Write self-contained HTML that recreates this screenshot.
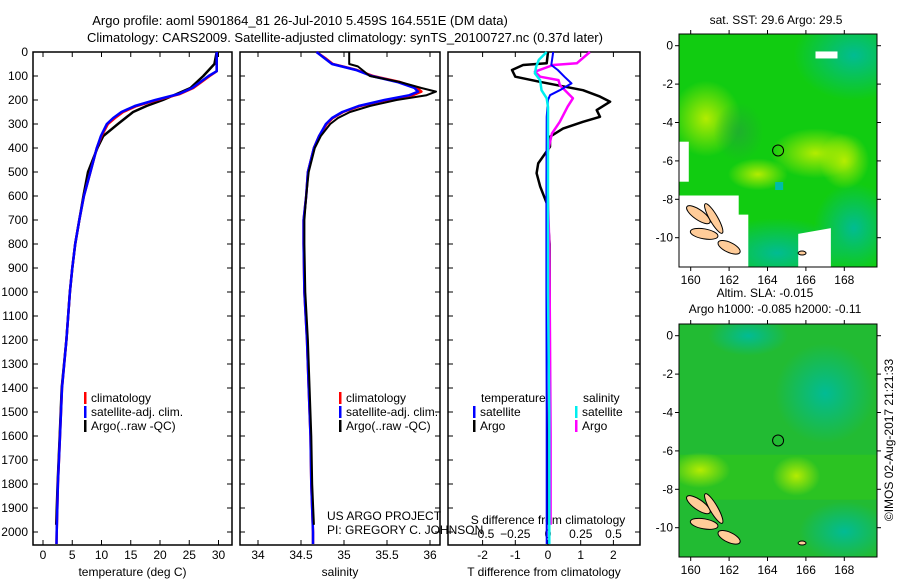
<!DOCTYPE html>
<html><head><meta charset="utf-8"><style>
body{margin:0;background:#fff}
svg{display:block;font-family:"Liberation Sans",sans-serif;font-size:12px}
</style></head><body>
<svg id="fig" width="900" height="580" viewBox="0 0 900 580">
<defs>
<radialGradient id="yb" cx="50%" cy="50%" r="50%"><stop offset="0" stop-color="#bbee00" stop-opacity="0.95"/><stop offset="1" stop-color="#bbee00" stop-opacity="0"/></radialGradient>
<radialGradient id="tb" cx="50%" cy="50%" r="50%"><stop offset="0" stop-color="#00bb99" stop-opacity="0.95"/><stop offset="1" stop-color="#00bb99" stop-opacity="0"/></radialGradient>
<radialGradient id="db" cx="50%" cy="50%" r="50%"><stop offset="0" stop-color="#22aa33" stop-opacity="0.8"/><stop offset="1" stop-color="#22aa33" stop-opacity="0"/></radialGradient>
<clipPath id="c1"><rect x="679" y="34" width="198" height="233"/></clipPath>
<clipPath id="c2"><rect x="679" y="324" width="198" height="233"/></clipPath>
</defs>
<text x="300" y="25" text-anchor="middle" font-size="13">Argo profile: aoml 5901864_81 26-Jul-2010 5.459S 164.551E (DM data)</text>
<text x="345" y="42" text-anchor="middle" font-size="13">Climatology: CARS2009. Satellite-adjusted climatology: synTS_20100727.nc (0.37d later)</text>
<g id="p1"></g>
<g id="p2"></g>
<g id="p3"></g>
<g id="m1"></g>
<g id="m2"></g>
<text transform="translate(893,440) rotate(-90)" text-anchor="middle" font-size="12">©IMOS 02-Aug-2017 21:21:33</text>
</svg>
<script>
// ---- data ----
const tempDepth = [0,80,100,150,175,200,225,250,275,300,350,400,500,600,700,800,900,1000,1200,1400,1600,1800,2000,2050];
const tempClim  = [29.7,29.7,28.5,25.7,23.4,19.5,16,13.7,12.3,11.1,10,9.2,8.1,7,6.2,5.5,5,4.6,4.0,3.25,2.9,2.55,2.35,2.3];
const tempSat   = [29.7,29.7,28.3,25.5,23.2,19.2,15.7,13.4,12.0,10.9,9.9,9.2,8.1,7,6.2,5.5,5,4.6,4.0,3.25,2.9,2.55,2.35,2.3];
const argoDepth = [0,50,100,150,200,225,250,300,350,400,500,600,700,800,900,1000,1200,1400,1600,1800,1970];
const argoTemp  = [29.7,29.3,27.4,25.2,20.5,17.7,15.4,12.8,10.3,9.3,7.7,6.9,6.2,5.5,5,4.6,4.0,3.2,2.85,2.5,2.25];
const salDepth = [0,25,50,75,100,125,150,165,180,200,225,250,275,300,350,400,500,600,700,800,1000,1200,1400,1600,1800,2000,2050];
const salClim  = [34.68,34.78,34.87,35.15,35.34,35.65,35.85,35.9,35.8,35.5,35.19,34.99,34.87,34.8,34.71,34.65,34.58,34.56,34.53,34.53,34.54,34.57,34.59,34.61,34.62,34.64,34.64];
const salSat   = [34.68,34.77,34.86,35.14,35.32,35.62,35.82,35.86,35.76,35.47,35.17,34.98,34.86,34.79,34.71,34.65,34.58,34.56,34.53,34.53,34.54,34.57,34.59,34.61,34.62,34.64,34.64];
const argoSal  = [35.06,35.06,35.16,35.3,35.65,35.9,36.07,35.96,35.61,35.3,35.07,34.93,34.84,34.73,34.66,34.59,34.56,34.54,34.54,34.55,34.58,34.6,34.62,34.63,34.65];
const argoSalDepth = [0,50,60,100,125,150,165,180,200,225,250,275,300,350,400,500,600,700,800,1000,1200,1400,1600,1800,1970];
const dTDepth = [0,47,54,75,103,124,159,186,207,242,270,291,319,353,394,464,505,561,630,800,1200,1600,1970];
const dTArgo  = [0,-0.04,-0.76,-1.1,-1.0,-0.25,1.07,1.59,1.9,1.49,1.59,1.07,0.46,0.06,0.06,-0.3,-0.35,-0.24,-0.04,0.05,0.05,0.02,0.0];
const dSDepth = [0,47,54,82,103,117,138,193,228,291,340,437,800,1200,1600,1970];
const dSArgo  = [0.32,0.22,0.04,-0.1,-0.06,0.08,0.09,0.19,0.15,0.09,0.03,-0.01,0.01,0.015,0.02,0.02];
const dTSatDepth = [0,54,75,103,131,159,180,200,270,600,1000,1500,2050];
const dTSat   = [0.16,0.1,0.3,0.5,0.72,0.36,0.06,0.0,-0.04,-0.05,-0.05,-0.04,-0.04];
const dSSatDepth = [0,33,61,89,117,159,193,230,600,1000,1500,2050];
const dSSat   = [-0.01,-0.07,-0.09,-0.1,-0.06,-0.05,-0.01,0.0,0.0,0.0,0.01,0.01];
const depthTicks = [0,100,200,300,400,500,600,700,800,900,1000,1100,1200,1300,1400,1500,1600,1700,1800,1900,2000];
const tempTicks = [0,5,10,15,20,25,30];
const salTicks = [34,34.5,35,35.5,36];
const dTTicks = [-2,-1,0,1,2];
const dSTicks = [-0.5,-0.25,0,0.25,0.5];
const lonTicks = [160,162,164,166,168];
const latTicks = [0,-2,-4,-6,-8,-10];
const floatPos = [164.551,-5.459];

// ---- helpers ----
const NS='http://www.w3.org/2000/svg';
function mk(tag,attrs,parent){const e=document.createElementNS(NS,tag);for(const k in attrs)e.setAttribute(k,attrs[k]);parent.appendChild(e);return e;}
const yD = d => 52 + d*0.24;
const PT=52, PB=545;
function panel(g,x0,x1,xs,ticks,fmt,title,name){
  const r=mk('rect',{x:x0,y:PT,width:x1-x0,height:PB-PT,fill:'none',stroke:'#000','stroke-width':1.5},g);
  
  
  ticks.forEach(t=>{const x=xs(t);
    mk('line',{x1:x,x2:x,y1:PB,y2:PB-5,stroke:'#000'},g);
    mk('line',{x1:x,x2:x,y1:PT,y2:PT+5,stroke:'#000'},g);
    const tx=mk('text',{x:x,y:559,'text-anchor':'middle'},g);tx.textContent=fmt(t);
    
    
  });
  depthTicks.forEach(d=>{const y=yD(d);
    mk('line',{x1:x0,x2:x0+5,y1:y,y2:y,stroke:'#000'},g);
    mk('line',{x1:x1,x2:x1-5,y1:y,y2:y,stroke:'#000'},g);
  });
  const t=mk('text',{x:(x0+x1)/2,y:576,'text-anchor':'middle'},g);t.textContent=title;
  
  
}
function line(g,xs,vals,depths,color,w,name){
  const pts=vals.map((v,i)=>xs(v).toFixed(1)+','+yD(depths[i]).toFixed(1)).join(' ');
  const p=mk('polyline',{points:pts,fill:'none',stroke:color,'stroke-width':w,'stroke-linejoin':'round'},g);
  
  
}
function legend(g,x,y,items){
  items.forEach((it,i)=>{
    mk('rect',{x:x,y:y+i*14-10,width:2.5,height:12,fill:it[1]},g);
    const t=mk('text',{x:x+7,y:y+i*14},g);t.textContent=it[0];
    
    
  });
}
// depth labels
const p1=document.getElementById('p1');
depthTicks.forEach(d=>{const t=mk('text',{x:28,y:yD(d)+4,'text-anchor':'end'},p1);t.textContent=d;
  
  });
// panel 1
const xT=v=>43+v*5.85;
panel(p1,33,232,xT,tempTicks,String,'temperature (deg C)','temperature');
line(p1,xT,argoTemp,argoDepth,'#000',2.5,'argo-temperature-line');
line(p1,xT,tempClim,tempDepth,'#f00',2.5,'climatology-temperature-line');
line(p1,xT,tempSat,tempDepth,'#00f',2.5,'satellite-temperature-line');
legend(p1,84,402,[['climatology','#f00'],['satellite-adj. clim.','#00f'],['Argo(..raw -QC)','#000']]);
// panel 2
const p2=document.getElementById('p2');
const xS=v=>258+(v-34)*86;
panel(p2,240,440,xS,salTicks,String,'salinity','salinity');
line(p2,xS,salClim,salDepth,'#f00',2.5,'climatology-salinity-line');
line(p2,xS,salSat,salDepth,'#00f',2.5,'satellite-salinity-line');
line(p2,xS,argoSal,argoSalDepth,'#000',2,'argo-salinity-line');
legend(p2,339,402,[['climatology','#f00'],['satellite-adj. clim.','#00f'],['Argo(..raw -QC)','#000']]);
let t=mk('text',{x:327,y:520},p2);t.textContent='US ARGO PROJECT';

t=mk('text',{x:327,y:534},p2);t.textContent='PI: GREGORY C. JOHNSON';

// panel 3
const p3=document.getElementById('p3');
const xdT=v=>548+v*32.7, xdS=v=>548+v*131;
panel(p3,448,640,xdT,dTTicks,String,'T difference from climatology','t-difference');
dSTicks.forEach(s=>{const tx=mk('text',{x:xdS(s),y:538,'text-anchor':'middle'},p3);tx.textContent=String(s).replace('-','\u2212');
  });
t=mk('text',{x:548,y:524,'text-anchor':'middle'},p3);t.textContent='S difference from climatology';

line(p3,xdT,dTArgo,dTDepth,'#000',2.5,'argo-t-difference-line');
line(p3,xdS,dSArgo,dSDepth,'#f0f',2.5,'argo-s-difference-line');
line(p3,xdT,dTSat,dTSatDepth,'#00f',2,'satellite-t-difference-line');
line(p3,xdS,dSSat,dSSatDepth,'#0ee',2.5,'satellite-s-difference-line');
t=mk('text',{x:481,y:402},p3);t.textContent='temperature';

t=mk('text',{x:583,y:402},p3);t.textContent='salinity';

legend(p3,473,416,[['satellite','#00f'],['Argo','#000']]);
legend(p3,575,416,[['satellite','#0ee'],['Argo','#f0f']]);
// maps
function map(id,top,clip,top1,top2,kind){
  const g=document.getElementById(id);
  const lx=v=>690.7+(v-160)*19.2, ly=v=>top+11.7-v*19.2;
  const inner=mk('g',{'clip-path':'url(#'+clip+')'},g);
  if(kind===1){
    mk('rect',{x:679,y:top,width:198,height:233,fill:'#11cc11'},inner);
    mk('ellipse',{cx:lx(168.5),cy:ly(-0.5),rx:60,ry:45,fill:'url(#tb)'},inner);
    mk('ellipse',{cx:lx(164.5),cy:ly(-10.8),rx:70,ry:35,fill:'url(#tb)'},inner);
    mk('ellipse',{cx:lx(168.5),cy:ly(-9.5),rx:40,ry:45,fill:'url(#tb)'},inner);
    mk('ellipse',{cx:lx(160.8),cy:ly(-3.8),rx:35,ry:38,fill:'url(#yb)'},inner);
    mk('ellipse',{cx:lx(166.5),cy:ly(-5.6),rx:45,ry:25,fill:'url(#yb)'},inner);
    mk('ellipse',{cx:lx(168),cy:ly(-6),rx:25,ry:28,fill:'url(#yb)'},inner);
    mk('ellipse',{cx:lx(163.5),cy:ly(-6.7),rx:30,ry:16,fill:'url(#yb)'},inner);
    mk('ellipse',{cx:lx(162.5),cy:ly(-4.5),rx:25,ry:30,fill:'url(#db)'},inner);
    mk('rect',{x:lx(164.4),y:ly(-7.1),width:8,height:8,fill:'#00bbaa'},inner);
    mk('path',{d:`M679,${ly(-7.8)} L${lx(162.5)},${ly(-7.8)} L${lx(162.5)},${ly(-8.8)} L${lx(163)},${ly(-8.8)} L${lx(163)},${ly(-11.5)} L679,${ly(-11.5)}Z`,fill:'#fff'},inner);
    mk('rect',{x:679,y:ly(-5),width:lx(159.9)-679,height:40,fill:'#fff'},inner);
    mk('path',{d:`M${lx(165.6)},${ly(-11.5)} L${lx(165.6)},${ly(-9.8)} L${lx(167.3)},${ly(-9.5)} L${lx(167.3)},${ly(-11.5)}Z`,fill:'#fff'},inner);
    mk('rect',{x:lx(166.5),y:ly(-0.3),width:22,height:7,fill:'#fff'},inner);
  } else {
    mk('rect',{x:679,y:top,width:198,height:233,fill:'#22bb33'},inner);
    mk('rect',{x:679,y:ly(-6.2),width:198,height:45,fill:'#33cc11',opacity:0.5},inner);
    mk('ellipse',{cx:lx(160.5),cy:ly(-7),rx:30,ry:18,fill:'url(#yb)'},inner);
    mk('ellipse',{cx:lx(165.5),cy:ly(-7.3),rx:24,ry:20,fill:'url(#yb)'},inner);
    mk('ellipse',{cx:lx(167),cy:ly(-3),rx:50,ry:50,fill:'url(#tb)'},inner);
    mk('ellipse',{cx:lx(168),cy:ly(-10.2),rx:45,ry:30,fill:'url(#tb)'},inner);
    mk('ellipse',{cx:lx(163),cy:ly(0),rx:40,ry:20,fill:'url(#tb)'},inner);
  }
  [[160.4,-8.8,14,5,35],[161.2,-9.0,17,4,60],[160.7,-9.8,14,5,10],[162,-10.5,12,5,25],[165.8,-10.8,4,2,0]].forEach(s=>{
    const e=mk('ellipse',{cx:lx(s[0]),cy:ly(s[1]),rx:s[2],ry:s[3],fill:'#ffcc99',stroke:'#000','stroke-width':1,transform:`rotate(${s[4]} ${lx(s[0])} ${ly(s[1])})`},inner);
    
    
  });
  const c=mk('circle',{cx:lx(floatPos[0]),cy:ly(floatPos[1]),r:5.5,fill:'none',stroke:'#000','stroke-width':1},g);
  
  
  mk('rect',{x:679,y:top,width:198,height:233,fill:'none',stroke:'#000','stroke-width':1},g);
  lonTicks.forEach(v=>{const x=lx(v);
    mk('line',{x1:x,x2:x,y1:top,y2:top-4,stroke:'#000'},g);
    mk('line',{x1:x,x2:x,y1:top+233,y2:top+237,stroke:'#000'},g);
    const tx=mk('text',{x:x,y:top+250,'text-anchor':'middle'},g);tx.textContent=v;
    });
  latTicks.forEach(v=>{const y=ly(v);
    mk('line',{x1:679,x2:675,y1:y,y2:y,stroke:'#000'},g);
    mk('line',{x1:877,x2:881,y1:y,y2:y,stroke:'#000'},g);
    const tx=mk('text',{x:673,y:y+4,'text-anchor':'end'},g);tx.textContent=v;
    });
  if(top2){
    let a=mk('text',{x:765,y:top-27,'text-anchor':'middle'},g);a.textContent=top1;
    
    a=mk('text',{x:775,y:top-11,'text-anchor':'middle'},g);a.textContent=top2;
    
  } else {
    const a=mk('text',{x:776,y:top-10,'text-anchor':'middle'},g);a.textContent=top1;
    
  }
}
map('m1',34,'c1','sat. SST: 29.6  Argo: 29.5',null,1);
map('m2',324,'c2','Altim. SLA: -0.015','Argo h1000: -0.085 h2000: -0.11',2);
</script>
</body></html>
